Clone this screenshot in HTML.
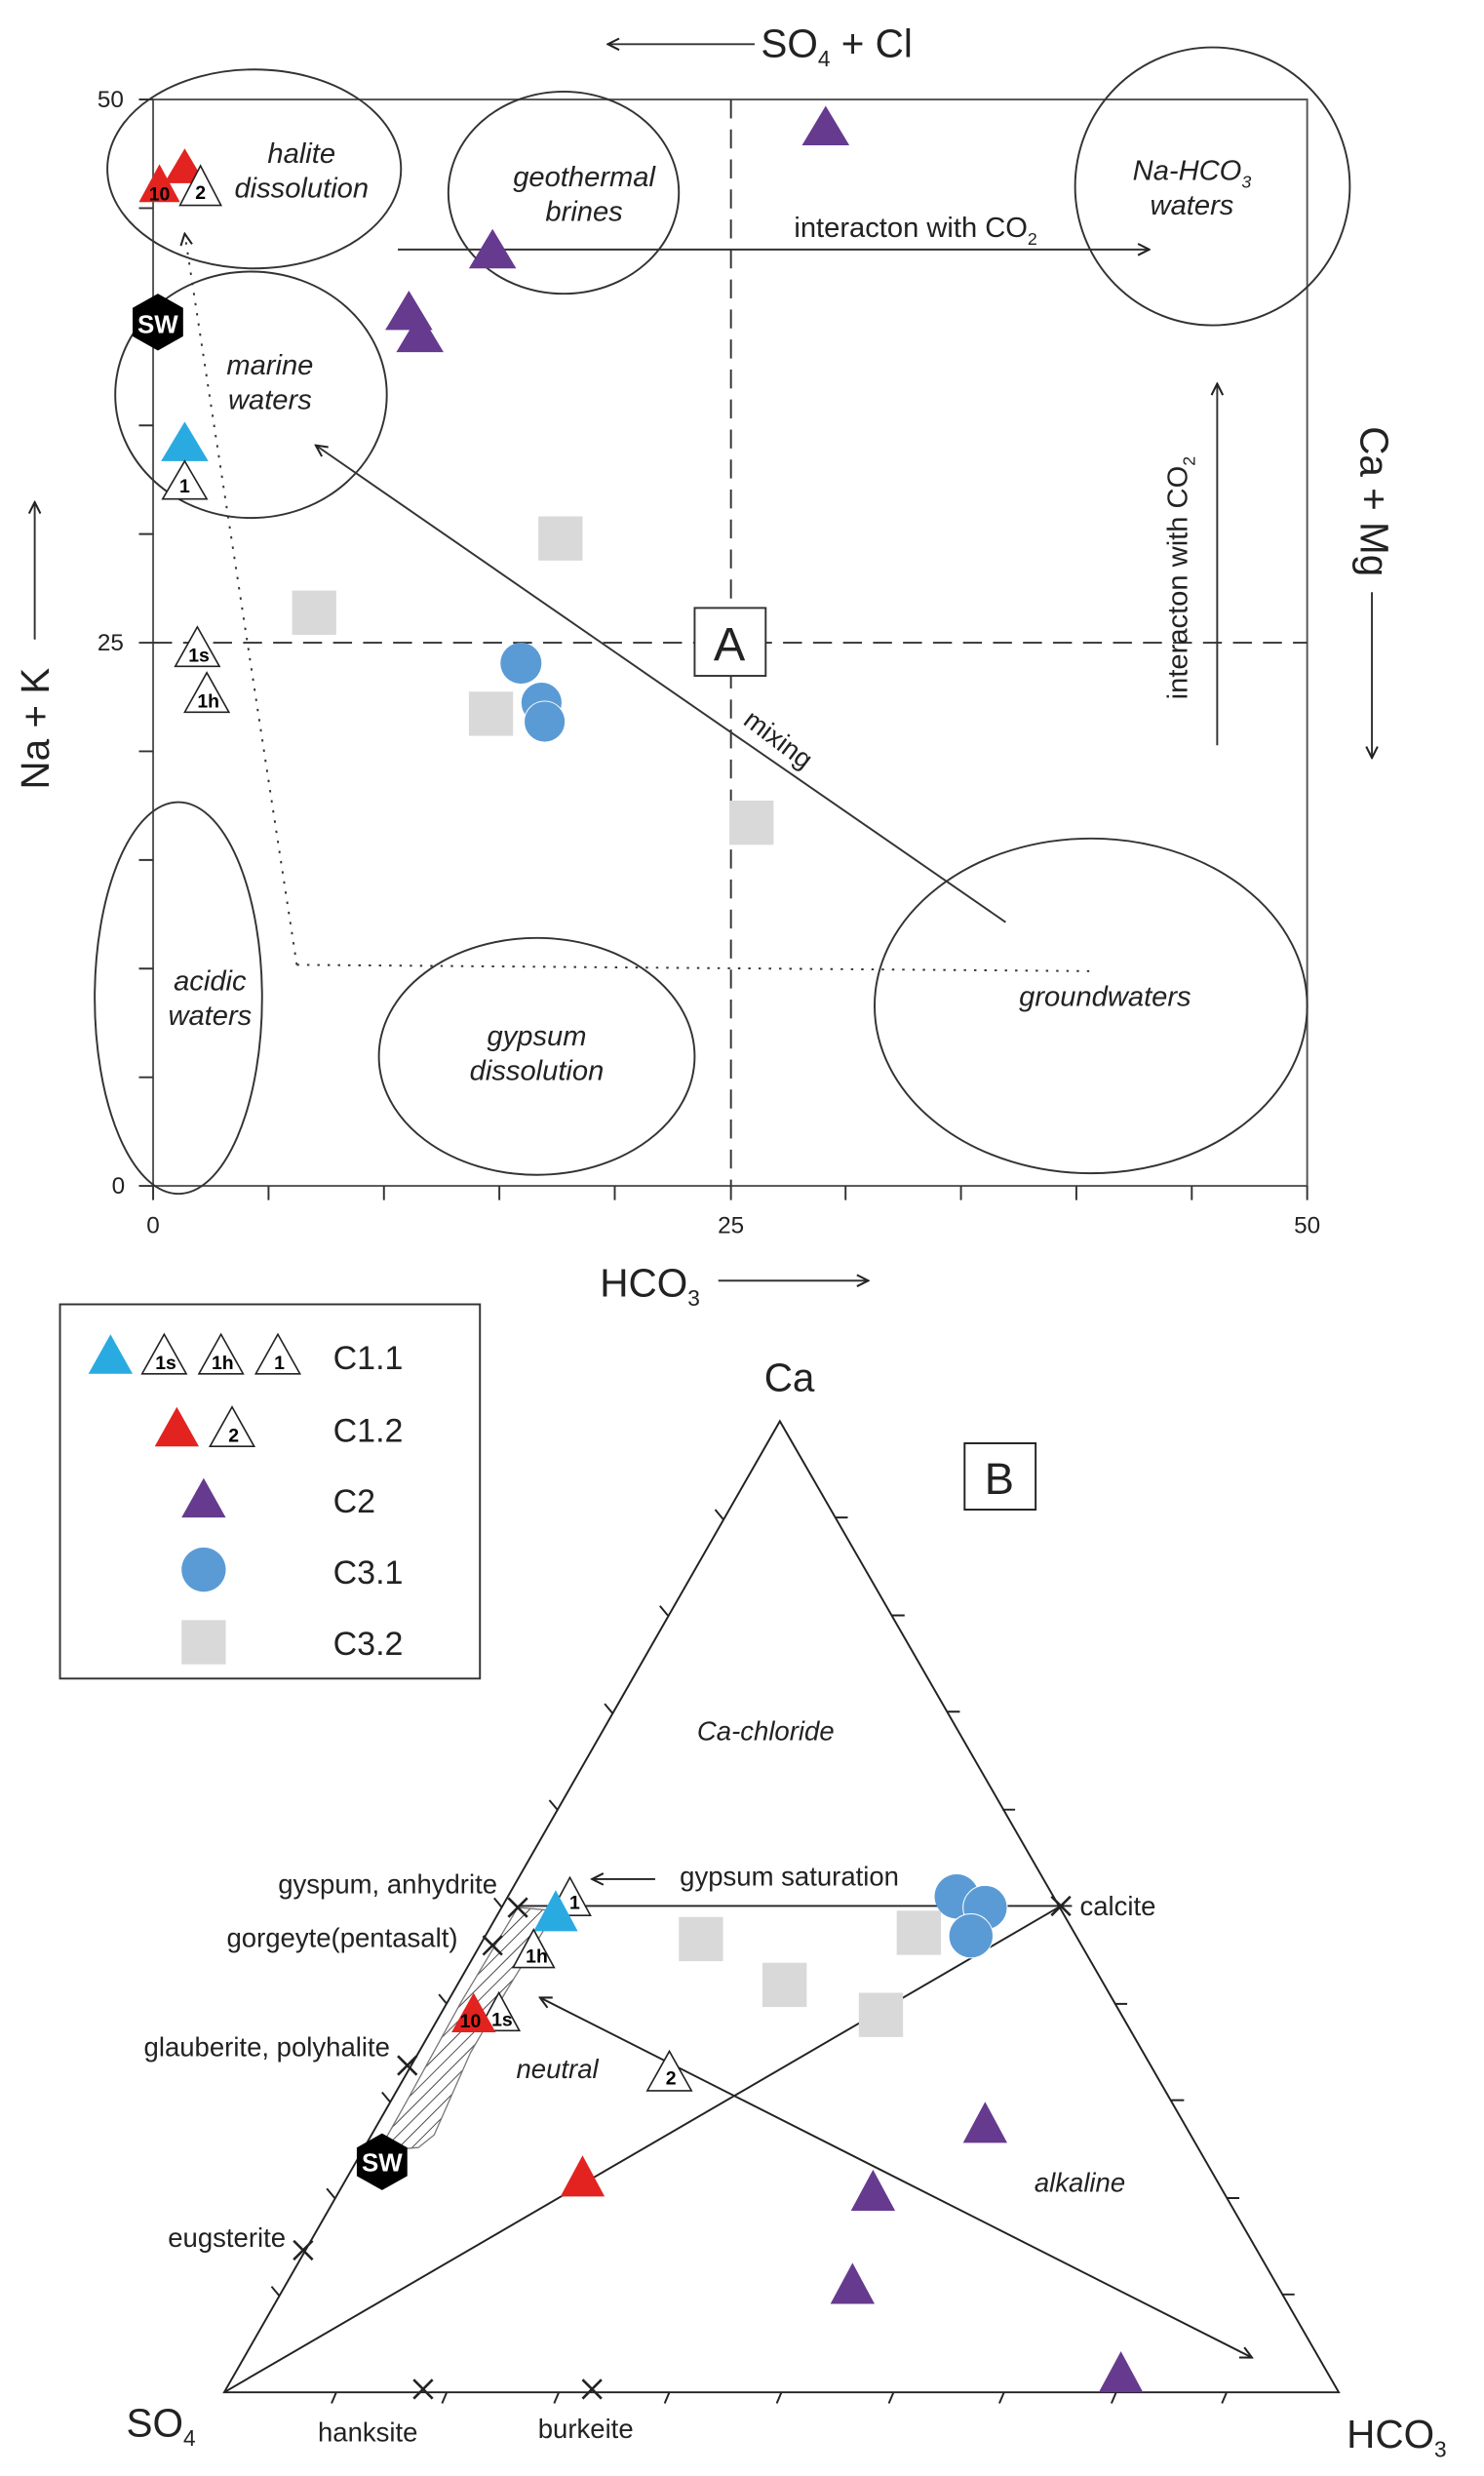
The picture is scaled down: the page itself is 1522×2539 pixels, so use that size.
<!DOCTYPE html>
<html><head><meta charset="utf-8"><style>html,body{margin:0;padding:0;background:#fff}svg{display:block}</style></head>
<body>
<svg width="1522" height="2539" viewBox="0 0 940 1568" preserveAspectRatio="none" xmlns="http://www.w3.org/2000/svg" font-family="Liberation Sans, Arial, sans-serif">
<defs>
<marker id="ar" viewBox="0 0 10 10" refX="9" refY="5" markerWidth="9" markerHeight="9" orient="auto-start-reverse" markerUnits="userSpaceOnUse"><path d="M1,1 L9,5 L1,9" fill="none" stroke="#222" stroke-width="1.4"/></marker>
<pattern id="hatch" patternUnits="userSpaceOnUse" width="6" height="6" patternTransform="rotate(45)"><line x1="0" y1="0" x2="0" y2="6" stroke="#222" stroke-width="1"/></pattern>
</defs>
<g stroke="#333" fill="none" stroke-width="1.2">
<rect x="97" y="63" width="731" height="688" stroke="#555"/>
<line x1="463" y1="63" x2="463" y2="751" stroke-dasharray="12,7"/>
<line x1="97" y1="407" x2="828" y2="407" stroke-dasharray="12,7"/>
<path d="M88,63H97M88,131.8H97M88,200.6H97M88,269.4H97M88,338.2H97M88,407H97M88,475.8H97M88,544.6H97M88,613.4H97M88,682.2H97M88,751H97"/>
<path d="M97,751V760M170.1,751V760M243.2,751V760M316.3,751V760M389.4,751V760M463,751V760M535.6,751V760M608.7,751V760M681.8,751V760M754.9,751V760M828,751V760"/>
<ellipse cx="161" cy="107" rx="93" ry="63"/>
<ellipse cx="357" cy="122" rx="73" ry="64"/>
<ellipse cx="768" cy="118" rx="87" ry="88"/>
<ellipse cx="159" cy="250" rx="86" ry="78"/>
<ellipse cx="113" cy="632" rx="53" ry="124"/>
<ellipse cx="340" cy="669" rx="100" ry="75"/>
<ellipse cx="691" cy="637" rx="137" ry="106"/>
<line x1="385" y1="28" x2="478" y2="28" marker-start="url(#ar)"/>
<line x1="455" y1="811" x2="550" y2="811" marker-end="url(#ar)"/>
<line x1="22" y1="405" x2="22" y2="318" marker-end="url(#ar)"/>
<line x1="869" y1="375" x2="869" y2="480" marker-end="url(#ar)"/>
<line x1="252" y1="158" x2="728" y2="158" marker-end="url(#ar)"/>
<line x1="771" y1="472" x2="771" y2="243" marker-end="url(#ar)"/>
<line x1="637" y1="584" x2="200" y2="282" marker-end="url(#ar)"/>
<polyline points="188,611 117,148" stroke-dasharray="1.5,5" marker-end="url(#ar)"/>
<polyline points="188,611 690,615" stroke-dasharray="1.5,5"/>
<rect x="440" y="385" width="45" height="43" fill="#fff"/>
</g>
<g font-size="15" fill="#222">
<text x="70" y="68" text-anchor="middle">50</text>
<text x="70" y="412" text-anchor="middle">25</text>
<text x="75" y="756" text-anchor="middle">0</text>
<text x="97" y="781" text-anchor="middle">0</text>
<text x="463" y="781" text-anchor="middle">25</text>
<text x="828" y="781" text-anchor="middle">50</text>
</g>
<g font-size="25" fill="#222">
<text x="482" y="36">SO<tspan font-size="14" dy="6">4</tspan><tspan dy="-6"> + Cl</tspan></text>
<text x="380" y="821">HCO<tspan font-size="14" dy="6">3</tspan></text>
<text transform="translate(31,500) rotate(-90)">Na + K</text>
<text transform="translate(862,270) rotate(90)">Ca + Mg</text>
<text x="462" y="418" text-anchor="middle" font-size="30">A</text>
</g>
<g font-size="18" fill="#222">
<text x="580" y="150" text-anchor="middle">interacton with CO<tspan font-size="11" dy="5">2</tspan></text>
<text transform="translate(752,443) rotate(-90)">interacton with CO<tspan font-size="11" dy="5">2</tspan></text>
<text transform="translate(470,458) rotate(37)" font-size="17">mixing</text>
</g>
<g font-size="18" font-style="italic" fill="#222" text-anchor="middle">
<text x="191" y="103">halite</text><text x="191" y="125">dissolution</text>
<text x="370" y="118">geothermal</text><text x="370" y="140">brines</text>
<text x="755" y="114">Na-HCO<tspan font-size="11" dy="5">3</tspan></text><text x="755" y="136">waters</text>
<text x="171" y="237">marine</text><text x="171" y="259">waters</text>
<text x="133" y="627">acidic</text><text x="133" y="649">waters</text>
<text x="340" y="662">gypsum</text><text x="340" y="684">dissolution</text>
<text x="700" y="637">groundwaters</text>
</g>
<g>
<polygon points="117,94 104,116 130,116" fill="#e2231f"/>
<polygon points="101,104 88,128 114,128" fill="#e2231f"/>
<polygon points="127,105 114,130 140,130" fill="#fff" stroke="#222" stroke-width="1"/>
<polygon points="523,67 508,92 538,92" fill="#663a8f"/>
<polygon points="312,145 297,170 327,170" fill="#663a8f"/>
<polygon points="259,184 244,209 274,209" fill="#663a8f"/>
<polygon points="266,198 251,223 281,223" fill="#663a8f"/>
<polygon points="117,267 102,292 132,292" fill="#29abe2"/>
<polygon points="117,292 103,316 131,316" fill="#fff" stroke="#222" stroke-width="1"/>
<polygon points="125,397 111,422 139,422" fill="#fff" stroke="#222" stroke-width="1"/>
<polygon points="131,426 117,451 145,451" fill="#fff" stroke="#222" stroke-width="1"/>
<polygon points="100,186 116,195 116,213 100,222 84,213 84,195" fill="#000"/>
<rect x="341" y="327" width="28" height="28" fill="#d9d9d9"/>
<rect x="185" y="374" width="28" height="28" fill="#d9d9d9"/>
<rect x="297" y="438" width="28" height="28" fill="#d9d9d9"/>
<rect x="462" y="507" width="28" height="28" fill="#d9d9d9"/>
<circle cx="330" cy="420" r="13" fill="#5b9bd5"/>
<circle cx="343" cy="445" r="13" fill="#5b9bd5" stroke="#fff" stroke-width="0.6"/>
<circle cx="345" cy="457" r="13" fill="#5b9bd5" stroke="#fff" stroke-width="0.6"/>
</g>
<g font-size="12" font-weight="bold" fill="#000" text-anchor="middle">
<text x="101" y="127">10</text><text x="127" y="126">2</text>
<text x="117" y="312">1</text><text x="126" y="419">1s</text><text x="132" y="448">1h</text>
<text x="100" y="211" fill="#fff" font-size="16">SW</text>
</g>
<rect x="38" y="826" width="266" height="237" fill="none" stroke="#333" stroke-width="1.2"/>
<g>
<polygon points="70,845 56,870 84,870" fill="#29abe2"/>
<polygon points="104,845 90,870 118,870" fill="#fff" stroke="#222"/>
<polygon points="140,845 126,870 154,870" fill="#fff" stroke="#222"/>
<polygon points="176,845 162,870 190,870" fill="#fff" stroke="#222"/>
<polygon points="112,891 98,916 126,916" fill="#e2231f"/>
<polygon points="147,891 133,916 161,916" fill="#fff" stroke="#222"/>
<polygon points="129,936 115,961 143,961" fill="#663a8f"/>
<circle cx="129" cy="994" r="14" fill="#5b9bd5"/>
<rect x="115" y="1026" width="28" height="28" fill="#d9d9d9"/>
</g>
<g font-size="12" font-weight="bold" fill="#000" text-anchor="middle">
<text x="105" y="867">1s</text><text x="141" y="867">1h</text><text x="177" y="867">1</text><text x="148" y="913">2</text>
</g>
<g font-size="21" fill="#222">
<text x="211" y="867">C1.1</text><text x="211" y="913">C1.2</text><text x="211" y="958">C2</text><text x="211" y="1003">C3.1</text><text x="211" y="1048">C3.2</text>
</g>
<g stroke="#222" fill="none" stroke-width="1.2">
<polygon points="142,1515 494,900 848,1515"/>
<path d="M328,1207H672"/>
<line x1="415" y1="1190" x2="375" y2="1190" marker-end="url(#ar)"/>
<line x1="142" y1="1515" x2="672" y2="1207"/>
<line x1="342" y1="1265" x2="793" y2="1493" marker-start="url(#ar)" marker-end="url(#ar)"/>
<path d="M177,1454l-5,-6M212,1392l-5,-6M247,1331l-5,-6M283,1269l-5,-6M318,1208l-5,-6M353,1146l-5,-6M388,1085l-5,-6M423,1023l-5,-6M458,962l-5,-6"/>
<path d="M529,961h8M565,1023h8M600,1084h8M635,1146h8M671,1207h8M706,1269h8M742,1330h8M777,1392h8M812,1453h8"/>
<path d="M213,1515l-3,7M283,1515l-3,7M354,1515l-3,7M424,1515l-3,7M495,1515l-3,7M566,1515l-3,7M636,1515l-3,7M707,1515l-3,7M777,1515l-3,7"/>
<polygon points="328,1208 352,1210 320,1262 298,1300 275,1352 265,1360 240,1362 258,1330 292,1268" fill="url(#hatch)" stroke="#777" stroke-width="0.8"/>
<g stroke-width="1.6">
<path d="M322,1202l12,12M334,1202l-12,12"/>
<path d="M306,1226l12,12M318,1226l-12,12"/>
<path d="M252,1302l12,12M264,1302l-12,12"/>
<path d="M186,1419l12,12M198,1419l-12,12"/>
<path d="M666,1201l12,12M678,1201l-12,12"/>
<path d="M262,1507l12,12M274,1507l-12,12"/>
<path d="M369,1507l12,12M381,1507l-12,12"/>
</g>
<rect x="611" y="914" width="45" height="42" fill="#fff"/>
</g>
<g>
<polygon points="361,1189 348,1213 374,1213" fill="#fff" stroke="#222"/>
<polygon points="352,1197 338,1223 366,1223" fill="#29abe2"/>
<polygon points="338,1222 325,1246 351,1246" fill="#fff" stroke="#222"/>
<polygon points="316,1262 303,1286 329,1286" fill="#fff" stroke="#222"/>
<polygon points="300,1262 286,1287 314,1287" fill="#e2231f"/>
<polygon points="424,1299 410,1324 438,1324" fill="#fff" stroke="#222"/>
<polygon points="242,1351 258,1360 258,1378 242,1387 226,1378 226,1360" fill="#000"/>
<polygon points="369,1365 355,1391 383,1391" fill="#e2231f"/>
<polygon points="624,1331 610,1357 638,1357" fill="#663a8f"/>
<polygon points="553,1374 539,1400 567,1400" fill="#663a8f"/>
<polygon points="540,1433 526,1459 554,1459" fill="#663a8f"/>
<polygon points="710,1489 696,1515 724,1515" fill="#663a8f"/>
<rect x="430" y="1214" width="28" height="28" fill="#d9d9d9"/>
<rect x="483" y="1243" width="28" height="28" fill="#d9d9d9"/>
<rect x="568" y="1210" width="28" height="28" fill="#d9d9d9"/>
<rect x="544" y="1262" width="28" height="28" fill="#d9d9d9"/>
<circle cx="606" cy="1201" r="14" fill="#5b9bd5"/>
<circle cx="624" cy="1208" r="14" fill="#5b9bd5" stroke="#fff" stroke-width="0.6"/>
<circle cx="615" cy="1226" r="14" fill="#5b9bd5" stroke="#fff" stroke-width="0.6"/>
</g>
<g font-size="12" font-weight="bold" fill="#000" text-anchor="middle">
<text x="364" y="1209">1</text><text x="340" y="1243">1h</text><text x="318" y="1283">1s</text><text x="298" y="1284">10</text><text x="425" y="1320">2</text>
<text x="242" y="1375" fill="#fff" font-size="16">SW</text>
</g>
<g font-size="17" fill="#222">
<text x="500" y="1194" text-anchor="middle">gypsum saturation</text>
<text x="315" y="1199" text-anchor="end">gyspum, anhydrite</text>
<text x="290" y="1233" text-anchor="end">gorgeyte(pentasalt)</text>
<text x="247" y="1302" text-anchor="end">glauberite, polyhalite</text>
<text x="181" y="1423" text-anchor="end">eugsterite</text>
<text x="684" y="1213">calcite</text>
<text x="233" y="1546" text-anchor="middle">hanksite</text>
<text x="371" y="1544" text-anchor="middle">burkeite</text>
</g>
<g font-size="17" font-style="italic" fill="#222" text-anchor="middle">
<text x="485" y="1102">Ca-chloride</text>
<text x="353" y="1316">neutral</text>
<text x="684" y="1388">alkaline</text>
</g>
<g font-size="25" fill="#222">
<text x="500" y="881" text-anchor="middle">Ca</text>
<text x="633" y="946" text-anchor="middle" font-size="28">B</text>
<text x="80" y="1543">SO<tspan font-size="14" dy="6">4</tspan></text>
<text x="853" y="1550">HCO<tspan font-size="14" dy="6">3</tspan></text>
</g>
</svg>
</body></html>
